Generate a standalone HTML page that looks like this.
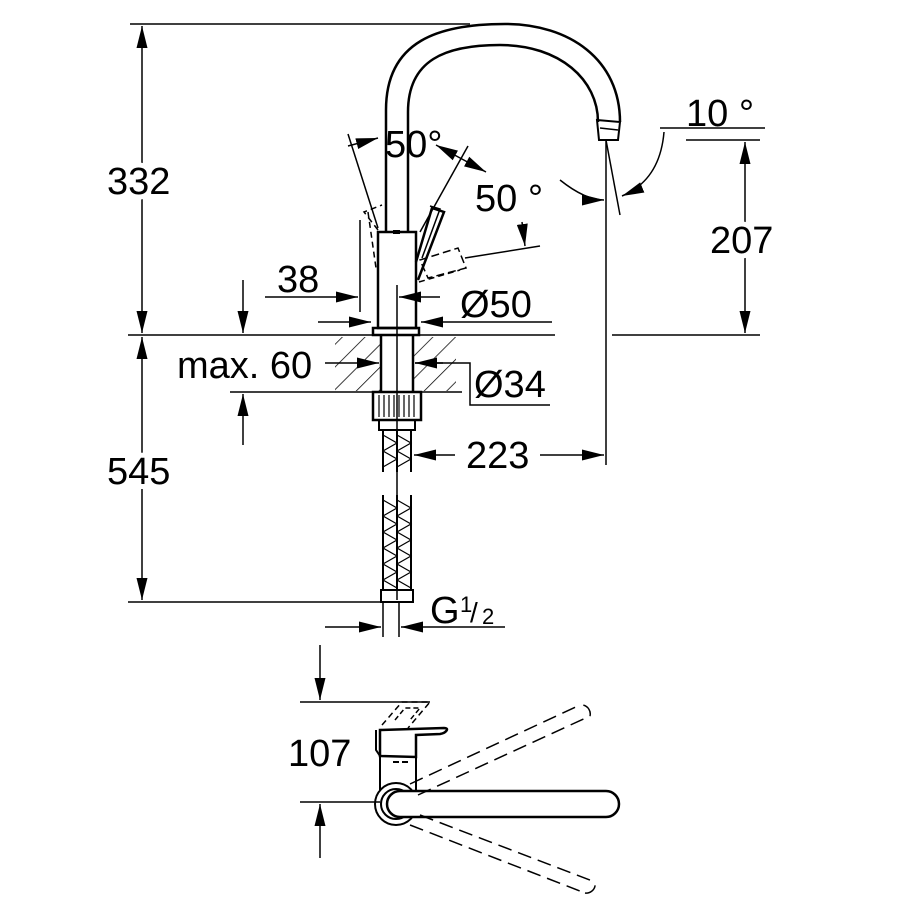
<!DOCTYPE html>
<html><head><meta charset="utf-8"><style>body{margin:0;background:#fff}svg{display:block}text{font-family:"Liberation Sans",sans-serif;font-size:38px;fill:#000}.w{stroke:#fff;stroke-width:10px;paint-order:stroke}</style></head><body>
<svg width="920" height="920" viewBox="0 0 920 920" xmlns="http://www.w3.org/2000/svg">
<defs>
<marker id="b" viewBox="0 0 20 10" refX="20" refY="5" markerWidth="22" markerHeight="11" markerUnits="userSpaceOnUse" orient="auto-start-reverse"><path d="M0,0 L20,5 L0,10z" fill="#000"/></marker>
<pattern id="h" patternUnits="userSpaceOnUse" width="16" height="16" patternTransform="rotate(45)"><line x1="0" y1="0" x2="0" y2="16" stroke="#000" stroke-width="1.5"/></pattern>
</defs>
<g stroke="#000" stroke-width="1.5" fill="none">
<line x1="130" y1="24" x2="470" y2="24"/>
<line x1="142" y1="26" x2="142" y2="333" marker-start="url(#b)" marker-end="url(#b)"/>
<line x1="128" y1="335" x2="555" y2="335"/>
<line x1="612" y1="335" x2="760" y2="335"/>
<line x1="142" y1="337" x2="142" y2="600" marker-start="url(#b)" marker-end="url(#b)"/>
<line x1="128" y1="602" x2="390" y2="602"/>
<line x1="243" y1="280" x2="243" y2="333" marker-end="url(#b)"/>
<line x1="243" y1="445" x2="243" y2="394" marker-end="url(#b)"/>
<line x1="230" y1="392" x2="462" y2="392"/>
<rect x="335" y="337" width="45" height="54" fill="url(#h)" stroke="none"/>
<rect x="414" y="337" width="42" height="54" fill="url(#h)" stroke="none"/>
<path d="M386,232 L386,110 C386,40 440,24 505,24 C570,24 620,60 620,122" stroke-width="2.5"/>
<path d="M408,232 L408,112 C408,60 445,45 500,45 C560,45 598,80 598,122" stroke-width="2.5"/>
<path d="M597,120 L620,122 L618,140 L599,140z" stroke-width="2"/>
<line x1="600" y1="128" x2="618" y2="130"/>
<rect x="378" y="232" width="38" height="96" stroke-width="2.5" fill="#fff"/>
<line x1="393" y1="232" x2="400" y2="232" stroke-width="4"/>
<rect x="373" y="328" width="46" height="7" stroke-width="2.5"/>
<line x1="381" y1="335" x2="381" y2="392" stroke-width="2.5"/>
<line x1="413" y1="335" x2="413" y2="392" stroke-width="2.5"/>
<line x1="397" y1="285" x2="397" y2="600"/>
<path d="M416,262 L432,208 L444,212 L418,280" stroke-width="2.5"/>
<path d="M430,206 L440,209 L422,258" stroke-width="1.5"/>
<path d="M420,260 L458,248 L466,268 L428,278z" stroke-dasharray="8,4"/>
<path d="M378,230 L364,212 L382,205" stroke-dasharray="6,4"/>
<line x1="368" y1="212" x2="376" y2="268" stroke-dasharray="6,4"/>
<line x1="419" y1="282" x2="460" y2="270" stroke-dasharray="6,4"/>
<line x1="360" y1="220" x2="360" y2="312"/>
<line x1="348" y1="134" x2="378" y2="228"/>
<line x1="468" y1="146" x2="420" y2="232"/>
<line x1="348" y1="146" x2="378" y2="138" marker-end="url(#b)"/>
<line x1="436" y1="145" x2="486" y2="172" marker-start="url(#b)" marker-end="url(#b)"/>
<line x1="465" y1="258" x2="540" y2="246"/>
<line x1="522" y1="222" x2="525" y2="246" marker-end="url(#b)"/>
<rect x="373" y="392" width="48" height="28" stroke-width="2.5"/>
<path d="M379,395 v22 M384,395 v22 M389,395 v22 M394,395 v22 M399,395 v22 M404,395 v22 M409,395 v22 M414,395 v22" stroke-width="1.2"/>
<rect x="379" y="420" width="36" height="10" stroke-width="2"/>
<g stroke-width="2">
<line x1="383" y1="430" x2="383" y2="472"/><line x1="397" y1="430" x2="397" y2="472"/><line x1="411" y1="430" x2="411" y2="472"/>
<line x1="383" y1="495" x2="383" y2="590"/><line x1="397" y1="495" x2="397" y2="590"/><line x1="411" y1="495" x2="411" y2="590"/>
</g>
<path d="M383,435 l14,8 l-14,8 l14,8 l-14,8 M397,435 l14,8 l-14,8 l14,8 l-14,8" stroke-width="1.2"/>
<path d="M383,500 l14,8 l-14,8 l14,8 l-14,8 l14,8 l-14,8 l14,8 l-14,8 l14,8 l-14,8 l14,8 M397,500 l14,8 l-14,8 l14,8 l-14,8 l14,8 l-14,8 l14,8 l-14,8 l14,8 l-14,8 l14,8" stroke-width="1.2"/>
<rect x="381" y="590" width="32" height="12" stroke-width="2"/>
<line x1="383" y1="602" x2="383" y2="637"/>
<line x1="399" y1="602" x2="399" y2="637"/>
<line x1="325" y1="627" x2="381" y2="627" marker-end="url(#b)"/>
<line x1="505" y1="627" x2="401" y2="627" marker-end="url(#b)"/>
<line x1="265" y1="297" x2="358" y2="297" marker-end="url(#b)"/>
<line x1="440" y1="297" x2="399" y2="297" marker-end="url(#b)"/>
<line x1="318" y1="322" x2="371" y2="322" marker-end="url(#b)"/>
<line x1="552" y1="322" x2="421" y2="322" marker-end="url(#b)"/>
<line x1="325" y1="363" x2="379" y2="363" marker-end="url(#b)"/>
<path d="M415,363 L443,363 L470,363 L470,405 L550,405"/>
<line x1="443" y1="363" x2="415" y2="363" marker-end="url(#b)"/>
<line x1="606" y1="140" x2="606" y2="465"/>
<line x1="455" y1="455" x2="414" y2="455" marker-end="url(#b)"/>
<line x1="540" y1="455" x2="604" y2="455" marker-end="url(#b)"/>
<line x1="686" y1="140" x2="760" y2="140"/>
<line x1="745" y1="142" x2="745" y2="333" marker-start="url(#b)" marker-end="url(#b)"/>
<line x1="660" y1="128" x2="765" y2="128"/>
<line x1="606" y1="140" x2="620" y2="215"/>
<path d="M560,180 Q585,200 604,200" marker-end="url(#b)"/>
<path d="M664,132 Q660,180 622,196" marker-end="url(#b)"/>
<line x1="320" y1="645" x2="320" y2="700" marker-end="url(#b)"/>
<line x1="300" y1="702" x2="430" y2="702"/>
<line x1="320" y1="858" x2="320" y2="804" marker-end="url(#b)"/>
<line x1="300" y1="802" x2="380" y2="802"/>
<path d="M380,730 L444,728 C450,728 446,733 440,734 L416,735 L416,757 L380,756z" stroke-width="2.5"/>
<path d="M376,730 L376,750 L380,756" stroke-width="2"/>
<path d="M380,756 L380,790 M416,757 L416,790" stroke-width="2"/>
<path d="M393,762 L410,762" stroke-width="2" stroke-dasharray="6,3"/>
<path d="M382,725 L402,702 L430,702 L408,728" stroke-dasharray="6,4"/>
<path d="M395,720 L405,708 L420,708 L410,720" stroke-dasharray="5,3"/>
<circle cx="396" cy="804" r="21" stroke-width="2"/>
<circle cx="396" cy="804" r="15" stroke-width="2"/>
<path d="M400,791 L606,791 A13,13 0 0 1 606,817 L400,817 A13,13 0 0 1 400,791z" stroke-width="2.5" fill="#fff"/>
<path d="M410,784 L580,705 M418,795 L590,716 M590,716 A9,9 0 0 0 580,705" stroke-dasharray="14,7"/>
<path d="M410,825 L585,893 M420,815 L595,882 M585,893 A9,9 0 0 0 595,882" stroke-dasharray="14,7"/>
</g>
<text class="w" x="107" y="194">332</text>
<text class="w" x="107" y="484">545</text>
<text class="w" x="710" y="253">207</text>
<text x="686" y="126">10 °</text>
<text x="385" y="157">50°</text>
<text x="475" y="211">50 °</text>
<text x="277" y="292">38</text>
<text x="460" y="317">Ø50</text>
<text x="177" y="378">max. 60</text>
<text x="474" y="397">Ø34</text>
<text x="466" y="468">223</text>
<text x="430" y="623">G</text>
<text x="460" y="612" style="font-size:22px">1</text>
<text x="470" y="622" style="font-size:28px">/</text>
<text x="482" y="624" style="font-size:22px">2</text>
<text x="288" y="766">107</text>
</svg>
</body></html>
